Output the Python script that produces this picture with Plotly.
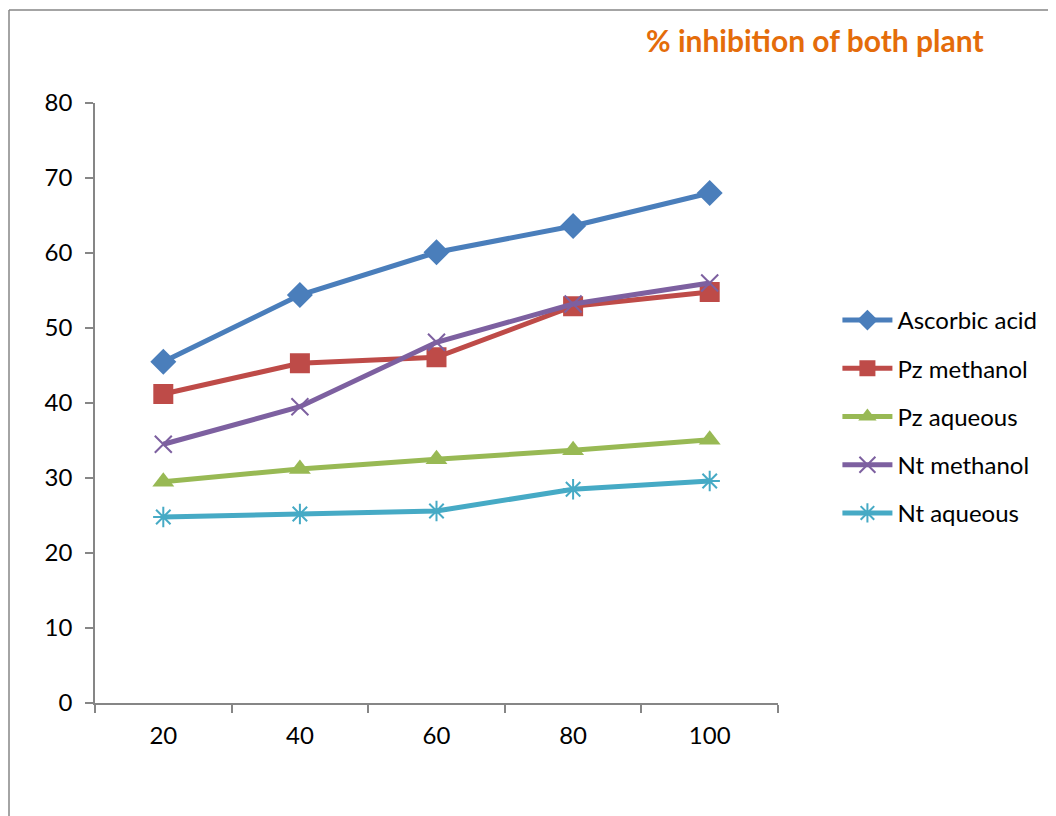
import plotly.graph_objects as go

categories = ["20", "40", "60", "80", "100"]
ascorbic_acid = [45.5, 54.4, 60.1, 63.6, 68.0]
pz_methanol = [41.2, 45.3, 46.1, 52.9, 54.8]
pz_aqueous = [29.5, 31.2, 32.5, 33.7, 35.1]
nt_methanol = [34.5, 39.5, 48.1, 53.2, 56.0]
nt_aqueous = [24.8, 25.2, 25.6, 28.5, 29.6]

series = [
    ("Ascorbic acid", ascorbic_acid, "#4A7EBB", "diamond", 20, 0),
    ("Pz methanol", pz_methanol, "#BE4B48", "square", 20, 0),
    ("Pz aqueous", pz_aqueous, "#98B954", "triangle-up", 19, 0),
    ("Nt methanol", nt_methanol, "#7D60A0", "x-thin-open", 17, 2),
    ("Nt aqueous", nt_aqueous, "#46AAC5", "asterisk-open", 17, 2),
]

fig = go.Figure()
for name, vals, color, sym, size, lw in series:
    fig.add_trace(go.Scatter(
        x=categories, y=vals, name=name, mode="lines+markers",
        legendgroup=name,
        line=dict(color=color, width=5),
        marker=dict(symbol=sym, size=size, color=color,
                    line=dict(color=color, width=lw)),
    ))

axis_col = "#868686"
FONT = "Lato, 'Open Sans', sans-serif"
fig.update_layout(
    width=1048, height=808,
    paper_bgcolor="white", plot_bgcolor="white",
    margin=dict(l=87, r=278, t=95, b=113),
    font=dict(family=FONT, size=24, color="black"),
    xaxis=dict(type="category", tickson="boundaries", range=[-0.5, 4.5],
               showline=True, linecolor=axis_col, linewidth=1.5,
               ticks="outside", ticklen=8, tickcolor=axis_col, tickwidth=1.5,
               showgrid=False, zeroline=False, tickfont=dict(size=24),
               ticklabelstandoff=10),
    yaxis=dict(range=[0, 80], dtick=10, showline=True, linecolor=axis_col,
               linewidth=1.5, ticks="outside", ticklen=8, tickcolor=axis_col,
               tickwidth=1.5, showgrid=False, zeroline=False,
               tickfont=dict(size=24), ticklabelstandoff=8),
    legend=dict(x=1.087, y=0.675, xanchor="left", yanchor="top",
                font=dict(size=24), tracegroupgap=14, itemwidth=50,
                bgcolor="rgba(0,0,0,0)"),
    showlegend=True,
)

fig.add_annotation(
    text="<b>% inhibition of both plant</b>", xref="paper", yref="paper",
    x=(815 - 95) / 683, y=(703 - 40) / 600, xanchor="center", yanchor="middle",
    showarrow=False, font=dict(size=30, color="#E46C0A", family=FONT),
)

# outer frame lines (left and top)
x0 = (9 - 95) / 683
ytop = (703 - 10) / 600
fig.add_shape(type="line", xref="paper", yref="paper", x0=x0, x1=x0,
              y0=ytop, y1=(703 - 830) / 600, line=dict(color=axis_col, width=1.5))
fig.add_shape(type="line", xref="paper", yref="paper", x0=x0, x1=(1070 - 95) / 683,
              y0=ytop, y1=ytop, line=dict(color=axis_col, width=1.5))

fig.write_html("out.html")
